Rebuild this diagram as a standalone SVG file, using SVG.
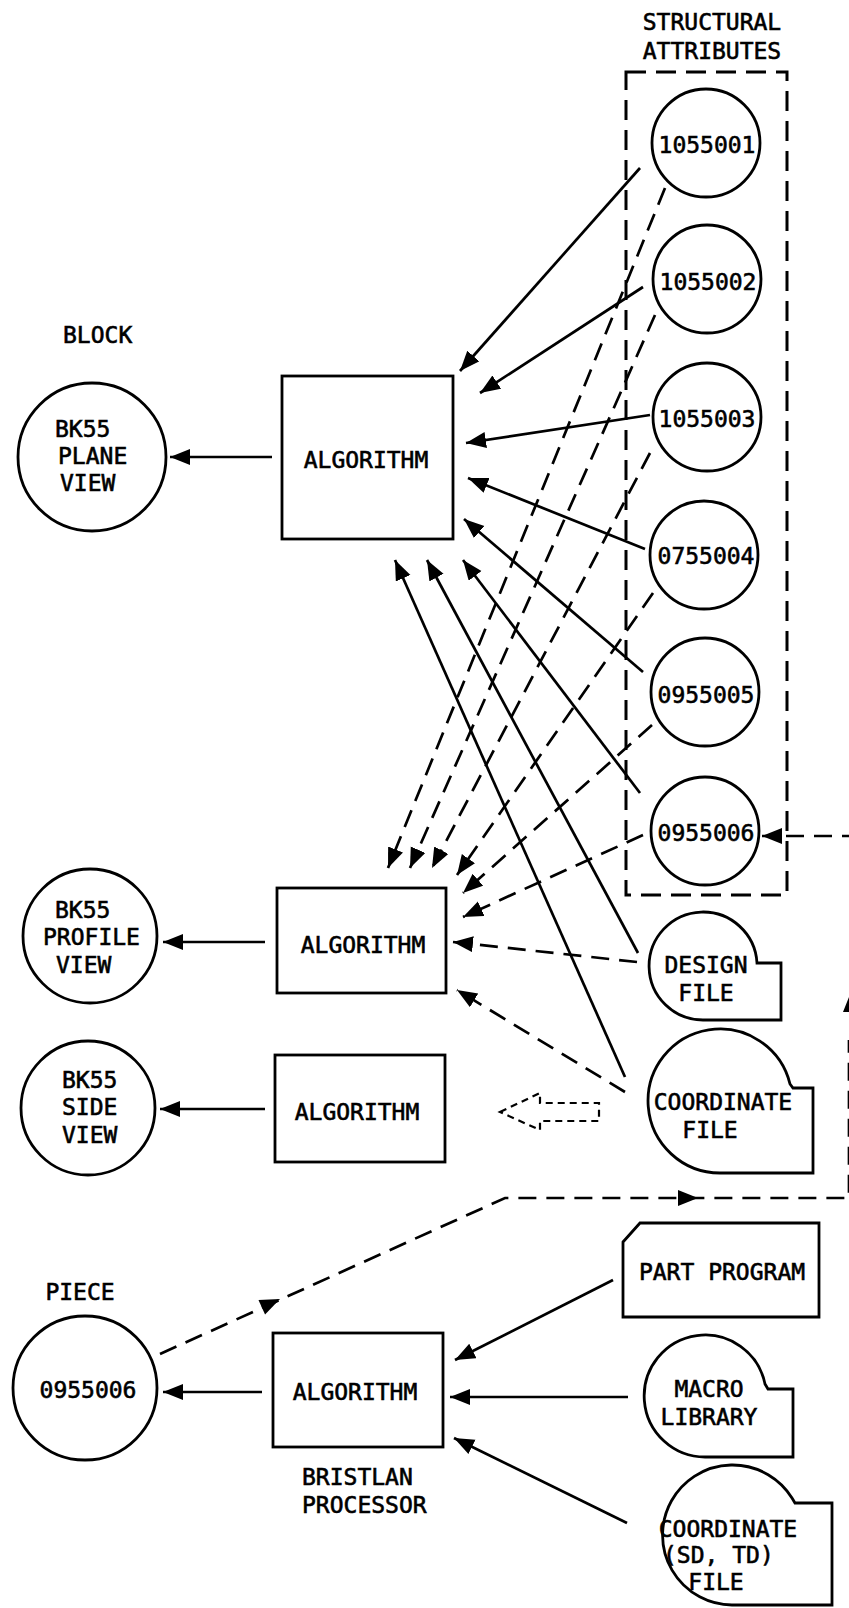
<svg xmlns="http://www.w3.org/2000/svg" xmlns:xlink="http://www.w3.org/1999/xlink" width="849" height="1608" viewBox="0 0 849 1608">
<style>
.n{fill:none;stroke:#000;stroke-width:2.8}
.t{font-family:"DejaVu Sans Mono","Liberation Mono",monospace;font-size:23px;fill:#000;stroke:#000;stroke-width:0.6}
.m{text-anchor:middle}
.s{fill:none;stroke:#000;stroke-width:2.7}
.d{fill:none;stroke:#000;stroke-width:2.7;stroke-dasharray:18 10}
.box{fill:none;stroke:#000;stroke-width:3;stroke-dasharray:20 10}
</style>
<defs>
<marker id="a" markerUnits="userSpaceOnUse" markerWidth="22" markerHeight="18" refX="20" refY="8" orient="auto"><path d="M0,0 L20,8 L0,16 z" fill="#000"/></marker>
<path id="h" d="M0,0 L-20,-8 L-20,8 z" fill="#000"/>
</defs>
<rect width="849" height="1608" fill="#fff"/>

<g id="labels">
<text class="t m" x="712" y="30">STRUCTURAL</text>
<text class="t m" x="712" y="59">ATTRIBUTES</text>
<text class="t" x="63" y="343">BLOCK</text>
<text class="t m" x="80" y="1300">PIECE</text>
<text class="t" x="302" y="1485">BRISTLAN</text>
<text class="t" x="302" y="1513">PROCESSOR</text>
</g>

<g id="attr-box"><rect class="box" x="626" y="72" width="161" height="823"/></g>

<g id="a1055001"><circle class="n" cx="706" cy="143" r="54"/><text class="t m" x="707" y="153">1055001</text></g>
<g id="a1055002"><circle class="n" cx="707" cy="279" r="54"/><text class="t m" x="708" y="290">1055002</text></g>
<g id="a1055003"><circle class="n" cx="707" cy="417" r="54"/><text class="t m" x="707" y="427">1055003</text></g>
<g id="a0755004"><circle class="n" cx="704" cy="555" r="54"/><text class="t m" x="706" y="564">0755004</text></g>
<g id="a0955005"><circle class="n" cx="705" cy="692" r="54"/><text class="t m" x="706" y="703">0955005</text></g>
<g id="a0955006"><circle class="n" cx="705" cy="831" r="54"/><text class="t m" x="706" y="841">0955006</text></g>

<g id="design-file"><path class="n" d="M757,963 L781,963 L781,1020 L703,1020 A54,54 0 1,1 757,963 Z"/><text class="t m" x="706" y="973">DESIGN</text><text class="t m" x="706" y="1001">FILE</text></g>
<g id="coord-file"><path class="n" d="M790,1084 L793,1088 L813,1088 L813,1173 L720,1173 A72,72 0 1,1 790,1084 Z"/><text class="t m" x="723" y="1110">COORDINATE</text><text class="t m" x="710" y="1138">FILE</text></g>
<g id="part-program"><path class="n" d="M623,1242 L640,1223 L819,1223 L819,1317 L623,1317 Z"/><text class="t m" x="722" y="1280">PART PROGRAM</text></g>
<g id="macro-library"><path class="n" d="M765,1384 L768,1389 L793,1389 L793,1457 L706,1457 A61,61 0 1,1 765,1384 Z"/><text class="t m" x="709" y="1397">MACRO</text><text class="t m" x="709" y="1425">LIBRARY</text></g>
<g id="coord-sdtd-file"><path class="n" d="M792,1498 L795,1503 L832,1503 L832,1605 L732,1605 A70,70 0 1,1 792,1498 Z"/><text class="t m" x="728" y="1537">COORDINATE</text><text class="t" x="663" y="1563">(SD, TD)</text><text class="t m" x="716" y="1590">FILE</text></g>

<g id="alg1"><rect class="n" x="282" y="376" width="171" height="163"/><text class="t m" x="366" y="468">ALGORITHM</text></g>
<g id="alg2"><rect class="n" x="277" y="888" width="169" height="105"/><text class="t m" x="363" y="953">ALGORITHM</text></g>
<g id="alg3"><rect class="n" x="275" y="1055" width="170" height="107"/><text class="t m" x="357" y="1120">ALGORITHM</text></g>
<g id="alg4"><rect class="n" x="273" y="1333" width="170" height="114"/><text class="t m" x="355" y="1400">ALGORITHM</text></g>

<g id="plane-view"><circle class="n" cx="92" cy="457" r="74"/><text class="t" x="55" y="437">BK55</text><text class="t" x="58" y="464">PLANE</text><text class="t" x="60" y="491">VIEW</text></g>
<g id="profile-view"><circle class="n" cx="90" cy="936" r="67"/><text class="t" x="55" y="918">BK55</text><text class="t" x="43" y="945">PROFILE</text><text class="t" x="56" y="973">VIEW</text></g>
<g id="side-view"><circle class="n" cx="88" cy="1108" r="67"/><text class="t" x="62" y="1088">BK55</text><text class="t" x="62" y="1115">SIDE</text><text class="t" x="62" y="1143">VIEW</text></g>
<g id="piece"><circle class="n" cx="85" cy="1388" r="72"/><text class="t m" x="88" y="1398">0955006</text></g>

<g id="connectors">
<line class="s" x1="272" y1="457" x2="170" y2="457" marker-end="url(#a)"/>
<line class="s" x1="265" y1="942" x2="163" y2="942" marker-end="url(#a)"/>
<line class="s" x1="265" y1="1109" x2="160" y2="1109" marker-end="url(#a)"/>
<line class="s" x1="262" y1="1392" x2="163" y2="1392" marker-end="url(#a)"/>
<line class="s" x1="640" y1="168" x2="460" y2="371" marker-end="url(#a)"/>
<line class="s" x1="643" y1="287" x2="480" y2="393" marker-end="url(#a)"/>
<line class="s" x1="650" y1="415" x2="466" y2="443" marker-end="url(#a)"/>
<line class="s" x1="645" y1="549" x2="468" y2="478" marker-end="url(#a)"/>
<line class="s" x1="643" y1="672" x2="464" y2="519" marker-end="url(#a)"/>
<line class="s" x1="640" y1="793" x2="463" y2="560" marker-end="url(#a)"/>
<line class="s" x1="638" y1="953" x2="427" y2="560" marker-end="url(#a)"/>
<line class="s" x1="625" y1="1077" x2="395" y2="560" marker-end="url(#a)"/>
<line class="d" x1="665" y1="188" x2="388" y2="868" marker-end="url(#a)"/>
<line class="d" x1="655" y1="315" x2="410" y2="868" marker-end="url(#a)"/>
<line class="d" x1="650" y1="453" x2="432" y2="868" marker-end="url(#a)"/>
<line class="d" x1="653" y1="593" x2="457" y2="875" marker-end="url(#a)"/>
<line class="d" x1="652" y1="725" x2="463" y2="893" marker-end="url(#a)"/>
<line class="d" x1="643" y1="835" x2="463" y2="917" marker-end="url(#a)"/>
<line class="d" x1="637" y1="962" x2="453" y2="942" marker-end="url(#a)"/>
<line class="d" x1="625" y1="1092" x2="457" y2="990" marker-end="url(#a)"/>
<polygon points="500,1112 540,1093 540,1103 599,1103 599,1121 540,1121 540,1130" fill="none" stroke="#000" stroke-width="2.2" stroke-dasharray="7 5"/>
<line class="s" x1="613" y1="1280" x2="455" y2="1360" marker-end="url(#a)"/>
<line class="s" x1="628" y1="1397" x2="450" y2="1397" marker-end="url(#a)"/>
<line class="s" x1="627" y1="1523" x2="454" y2="1438" marker-end="url(#a)"/>
<path class="d" d="M160,1354 L505,1198 L849,1198 L849,1040 M852,1040 L852,836 L762,836" marker-end="url(#a)"/>
<use xlink:href="#h" transform="translate(280,1299) rotate(-24.3)"/>
<use xlink:href="#h" transform="translate(698,1198)"/>
<use xlink:href="#h" transform="translate(851,992) rotate(-90)"/>
</g>
</svg>
